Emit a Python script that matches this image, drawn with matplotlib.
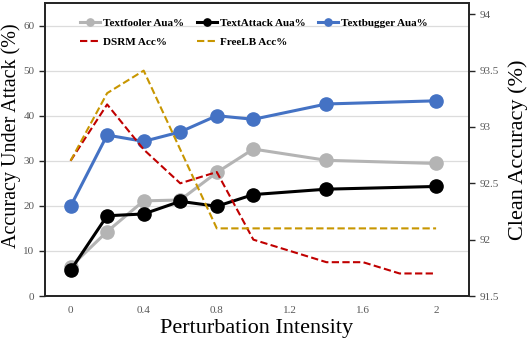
import matplotlib
matplotlib.use("Agg")
import matplotlib.pyplot as plt

plt.rcParams['font.family'] = ['Liberation Serif', 'DejaVu Serif']

x_aua = [0, 0.2, 0.4, 0.6, 0.8, 1.0, 1.4, 2.0]
textfooler = [6.5, 14.3, 21.1, 21.3, 27.4, 32.6, 30.1, 29.4]
textattack = [5.7, 17.8, 18.2, 21.0, 19.9, 22.5, 23.7, 24.3]
textbugger = [19.9, 35.7, 34.3, 36.4, 40.0, 39.2, 42.6, 43.3]

x_dsrm = [0, 0.2, 0.4, 0.6, 0.8, 1.0, 1.4, 1.6, 1.8, 2.0]
dsrm = [92.7, 93.2, 92.8, 92.5, 92.6, 92.0, 91.8, 91.8, 91.7, 91.7]
x_freelb = [0, 0.2, 0.4, 0.8, 1.0, 1.4, 2.0]
freelb = [92.7, 93.3, 93.5, 92.1, 92.1, 92.1, 92.1]

xticks = [0, 0.4, 0.8, 1.2, 1.6, 2.0]
xticklabels = ["0", "0.4", "0.8", "1.2", "1.6", "2"]
yticks_left = [0, 10, 20, 30, 40, 50, 60]
yticks_right = [91.5, 92, 92.5, 93, 93.5, 94]
yticklabels_right = ["91.5", "92", "92.5", "93", "93.5", "94"]

fig = plt.figure(figsize=(5.28, 3.42), dpi=100)
ax = fig.add_axes([45/528, 1-296/342, (469-45)/528, (296-3)/342])
ax2 = ax.twinx()

tick_color = '#595959'
ms = 9.5
lw = 2.2
h1, = ax.plot(x_aua, textfooler, color='#B4B4B4', marker='o', ms=ms, lw=lw, label='Textfooler Aua%', zorder=3)
h2, = ax.plot(x_aua, textattack, color='black', marker='o', ms=ms, lw=lw, label='TextAttack Aua%', zorder=3)
h3, = ax.plot(x_aua, textbugger, color='#4472C4', marker='o', ms=ms, lw=lw, label='Textbugger Aua%', zorder=3)
h4, = ax2.plot(x_dsrm, dsrm, color='#C00000', ls=(0, (3.5, 1.6)), lw=1.5, label='DSRM Acc%')
h5, = ax2.plot(x_freelb, freelb, color='#C89600', ls=(0, (3.5, 1.6)), lw=1.5, label='FreeLB Acc%')

ax.set_xlim(-0.14, 2.18)
ax.set_ylim(0, 65)
ax2.set_ylim(91.5, 94.1)
ax.set_yticks(yticks_left)
ax.set_xticks(xticks)
ax.set_xticklabels(xticklabels)
ax2.set_yticks(yticks_right)
ax2.set_yticklabels(yticklabels_right)
ax.yaxis.grid(True, color='#DCDCDC', lw=0.9)
ax.set_axisbelow(True)

for a in (ax, ax2):
    for s in a.spines.values():
        s.set_linewidth(1.3)
        s.set_color('#262626')
ax.tick_params(axis='x', length=0, labelsize=8, colors=tick_color, pad=7)
ax.tick_params(axis='y', length=4, width=1, labelsize=8, colors=tick_color, direction='out')
ax2.tick_params(axis='y', length=4, width=1, labelsize=8, colors=tick_color, direction='out')
for a in (ax, ax2):
    a.tick_params(axis='both', color='#262626')

ax.set_xlabel('Perturbation Intensity', fontsize=16, labelpad=3)
ax.set_ylabel('Accuracy Under Attack (%)', fontsize=14.5)
ax.yaxis.set_label_coords(-0.056, 0.546)
ax2.set_ylabel('Clean Accuracy (%)', fontsize=16, labelpad=7)

handles = [h1, h4, h2, h5, h3]
leg = ax2.legend(handles=handles, loc='upper left', bbox_to_anchor=(0.065, 0.975), ncol=3,
                 frameon=False, prop={'weight': 'bold', 'size': 8}, handlelength=1.8,
                 handletextpad=0.25, columnspacing=1.15, labelspacing=0.85, markerscale=0.55,
                 borderaxespad=0.3)

fig.savefig('out.png', dpi=100)
